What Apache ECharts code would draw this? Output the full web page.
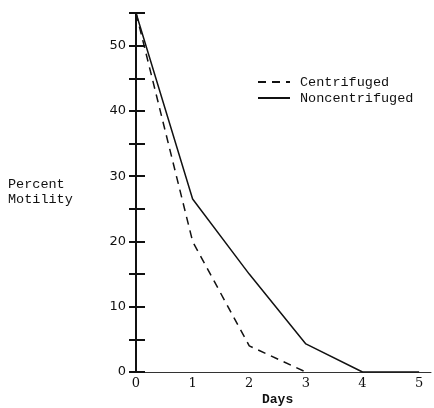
<!DOCTYPE html>
<html>
<head>
<meta charset="utf-8">
<script src="https://cdn.jsdelivr.net/npm/echarts@6/dist/echarts.min.js"></script>
<style>
  html, body { margin: 0; padding: 0; background: #fff; }
  #main { width: 434px; height: 408px; }
</style>
</head>
<body>
<div id="main"></div>
<script>
var days = [0, 1, 2, 3, 4, 5];
var centrifuged = [55, 20, 4, 0, null, null];
var noncentrifuged = [55, 26.5, 15, 4.3, 0, 0];

function pairs(ys) {
	var out = [];
	for (var i = 0; i < days.length; i++) {
		if (ys[i] !== null) out.push([days[i], ys[i]]);
	}
	return out;
}

var chart = echarts.init(document.getElementById('main'));
var option = {
	backgroundColor: '#fff',
	animation: false,
	grid: { left: 136, right: 0, top: 13, bottom: 36 },
	legend: {
		orient: 'vertical',
		left: 257,
		top: 75,
		padding: 0,
		itemWidth: 32,
		itemHeight: 14,
		itemGap: 2,
		itemStyle: { opacity: 0 },
		data: ['Centrifuged', 'Noncentrifuged'],
		textStyle: { fontFamily: 'Liberation Mono', fontSize: 13.5, color: '#111', padding: [0, 0, 0, 5] }
	},
	xAxis: {
		type: 'value',
		min: 0,
		max: 5.21,
		interval: 1,
		splitLine: { show: false },
		axisLine: { lineStyle: { color: '#333', width: 1 } },
		axisTick: { show: false },
		axisLabel: {
			margin: 5,
			color: '#111',
			fontFamily: 'DejaVu Serif',
			fontSize: 13,
			formatter: function (v) { return Number.isInteger(v) ? v : ''; }
		}
	},
	yAxis: [{
		type: 'value',
		min: 0,
		max: 55,
		interval: 5,
		splitLine: { show: false },
		axisLine: { lineStyle: { color: '#111', width: 2 } },
		axisTick: { length: 7, lineStyle: { color: '#111', width: 2 } },
		axisLabel: {
			margin: 10,
			color: '#111',
			fontFamily: 'DejaVu Sans',
			fontSize: 13,
			formatter: function (v) { return v % 10 === 0 ? v : ''; }
		}
	}, {
		type: 'value',
		position: 'left',
		offset: 0,
		min: 0,
		max: 55,
		interval: 5,
		splitLine: { show: false },
		axisLine: { show: false },
		axisTick: { inside: true, length: 9, lineStyle: { color: '#111', width: 2 } },
		axisLabel: { show: false }
	}],
	series: [{
		name: 'Centrifuged',
		type: 'line',
		data: pairs(centrifuged),
		symbol: 'none',
		lineStyle: { color: '#111', width: 1.5, type: [8, 6] },
		itemStyle: { color: '#111' }
	}, {
		name: 'Noncentrifuged',
		type: 'line',
		data: pairs(noncentrifuged),
		symbol: 'none',
		lineStyle: { color: '#111', width: 1.5 },
		itemStyle: { color: '#111' }
	}],
	graphic: [{
		type: 'text',
		left: 8,
		top: 177,
		style: {
			text: 'Percent\nMotility',
			font: '13.5px "Liberation Mono"',
			lineHeight: 15,
			fill: '#111'
		}
	}, {
		type: 'text',
		left: 262,
		top: 393,
		style: {
			text: 'Days',
			font: 'bold 13px "Liberation Mono"',
			fill: '#111'
		}
	}]
};
chart.setOption(option);
window.addEventListener('resize', chart.resize);
</script>
</body>
</html>
